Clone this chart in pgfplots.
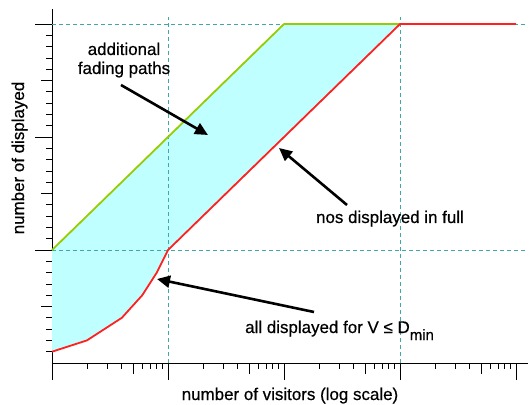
\documentclass[border=0pt]{standalone}
\usepackage{fontspec}
\setmainfont{Liberation Sans}[FakeBold=0.5]
\usepackage{pgfplots}
\pgfplotsset{compat=1.18}
\usetikzlibrary{arrows.meta}
\definecolor{gridteal}{HTML}{40A8A8}
\definecolor{lgreen}{HTML}{99CC00}
\definecolor{lred}{HTML}{FF2020}
\definecolor{fillcyan}{HTML}{C0FFFF}
\begin{document}
\begin{tikzpicture}
\path[use as bounding box] (-52bp,-42bp) rectangle (478bp,363bp);
\begin{axis}[
  at={(0,0)}, anchor=south west,
  scale only axis, width=476bp, height=354bp,
  xmode=log, xmin=1, xmax=12680,
  ymin=0, ymax=3.133,
  axis lines=left, axis line style={-, line width=0.8bp},
  tick align=outside, tick style={black, line width=0.8bp},
  major tick length=17bp, minor tick length=6bp,
  xtick={1,10,100,1000,10000}, xticklabels={},
  minor xtick={2,3,4,6,7,8,9,20,30,40,60,70,80,90,200,300,400,600,700,800,900,2000,3000,4000,6000,7000,8000,9000},
  extra x ticks={5,50,500,5000}, extra x tick labels={},
  extra x tick style={major tick length=11bp},
  ytick={1,2,3}, yticklabels={},
  minor ytick={0.1,0.2,0.3,0.4,0.6,0.7,0.8,0.9,1.1,1.2,1.3,1.4,1.6,1.7,1.8,1.9,2.1,2.2,2.3,2.4,2.6,2.7,2.8,2.9},
  extra y ticks={0.5,1.5,2.5}, extra y tick labels={},
  extra y tick style={major tick length=11bp},
  clip=false,
  xlabel={number of visitors (log scale)},
  x label style={at={(axis description cs:0.5,0)}, anchor=base, yshift=-37bp, font=\fontsize{17}{20}\selectfont},
]
% fill region
\addplot[fill=fillcyan, draw=none] coordinates {(1,1) (100,3) (1000,3) (10,1) (8,0.8) (6,0.6) (4,0.4) (2,0.2) (1,0.1)} -- cycle;
% dashed guides
\addplot[gridteal, dash pattern=on 4bp off 3bp, line width=1bp] coordinates {(10,0) (10,3.06)};
\addplot[gridteal, dash pattern=on 4bp off 3bp, line width=1bp] coordinates {(1000,0) (1000,3.06)};
\addplot[gridteal, dash pattern=on 4bp off 3bp, line width=1bp] coordinates {(1,1) (12680,1)};
\addplot[gridteal, dash pattern=on 4bp off 3bp, line width=1bp] coordinates {(1,3) (12680,3)};
% green upper bound
\addplot[lgreen, line width=1.8bp] coordinates {(1,1) (100,3) (1000,3)};
% red lower bound
\addplot[lred, line width=1.8bp] coordinates {(1,0.1) (2,0.2) (4,0.4) (6,0.6) (8,0.8) (10,1) (1000,3) (10000,3)};
\end{axis}
% y label
\node[rotate=90, anchor=base, font=\fontsize{17}{20}\selectfont] at (-28bp,205bp) {number of displayed};
% annotations
\begin{scope}[font=\fontsize{17}{20}\selectfont]
\node[anchor=base] at (72bp,308bp) {additional};
\node[anchor=base] at (72bp,289bp) {fading paths};
\node[anchor=base] at (338bp,140bp) {nos displayed in full};
\node[anchor=base west, inner sep=0pt] at (193bp,30bp) {all displayed for V ≤ D\raisebox{-7bp}{\fontsize{15}{15}\selectfont min}};
\end{scope}
\begin{scope}[line width=2.6bp, -{Triangle[length=13bp,width=12bp]}]
\draw (69bp,278bp) -- (156bp,228bp);
\draw (295bp,158bp) -- (227bp,215bp);
\draw (262bp,51bp) -- (105bp,84bp);
\end{scope}
\end{tikzpicture}
\end{document}
